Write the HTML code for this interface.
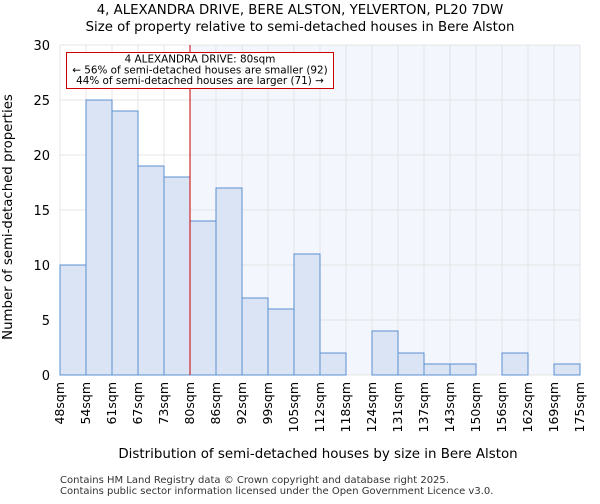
<!DOCTYPE html>
<html><head><meta charset="utf-8"><style>
body{margin:0;background:#fff;font-family:"DejaVu Sans","Liberation Sans",sans-serif}
</style></head><body>
<svg width="600" height="500" xmlns="http://www.w3.org/2000/svg" font-family="DejaVu Sans, Liberation Sans, sans-serif">
<text x="300" y="14" text-anchor="middle" font-size="13.3">4, ALEXANDRA DRIVE, BERE ALSTON, YELVERTON, PL20 7DW</text>
<text x="300" y="31" text-anchor="middle" font-size="13.3">Size of property relative to semi-detached houses in Bere Alston</text>
<g id="plot"></g>
<text x="318" y="458" text-anchor="middle" font-size="13.4">Distribution of semi-detached houses by size in Bere Alston</text>
<text transform="translate(12,217) rotate(-90)" text-anchor="middle" font-size="13.3">Number of semi-detached properties</text>
<text x="60" y="483" font-size="10" fill="#333">Contains HM Land Registry data © Crown copyright and database right 2025.</text>
<text x="60" y="494" font-size="10" fill="#333">Contains public sector information licensed under the Open Government Licence v3.0.</text>
</svg>
<script>
const categories=["48sqm","54sqm","61sqm","67sqm","73sqm","80sqm","86sqm","92sqm","99sqm","105sqm","112sqm","118sqm","124sqm","131sqm","137sqm","143sqm","150sqm","156sqm","162sqm","169sqm","175sqm"];
const counts=[10,25,24,19,18,14,17,7,6,11,2,0,4,2,1,1,0,2,0,1];
const yTicks=[0,5,10,15,20,25,30];
const markerIndex=5;
const NS="http://www.w3.org/2000/svg";
const g=document.getElementById('plot');
const L=60,R=580,T=45,B=375,yMax=30;
const bw=(R-L)/counts.length;
const x=i=>L+i*bw;
const y=v=>B-(v/yMax)*(B-T);
function mk(t,a){const e=document.createElementNS(NS,t);for(const k in a)e.setAttribute(k,a[k]);g.appendChild(e);return e;}
let e;
e=mk('rect',{x:x(markerIndex),y:T,width:R-x(markerIndex),height:B-T,fill:'#f3f6fc'});


for(let i=0;i<=counts.length;i++){e=mk('line',{x1:x(i),x2:x(i),y1:T,y2:B,stroke:'#e4e4e4','stroke-width':1});

}
yTicks.forEach(v=>{e=mk('line',{x1:L,x2:R,y1:y(v),y2:y(v),stroke:'#e4e4e4','stroke-width':1});


e=mk('text',{x:L-10,y:y(v)+5,'text-anchor':'end','font-size':13});e.textContent=v;

});
counts.forEach((c,i)=>{if(c<=0)return;e=mk('rect',{x:x(i),y:y(c),width:bw,height:B-y(c),fill:'#dae4f4',stroke:'#5b8fd0','stroke-width':1});

});
categories.forEach((c,i)=>{e=mk('text',{transform:`translate(${x(i)+4},${B+7}) rotate(-90)`,'text-anchor':'end','font-size':12.5});e.textContent=c;

});
e=mk('line',{x1:x(markerIndex),x2:x(markerIndex),y1:T,y2:B,stroke:'#cc0000','stroke-width':1});


e=mk('rect',{x:66.5,y:52.5,width:267,height:36,fill:'#fff',stroke:'#cc0000','stroke-width':1});


["4 ALEXANDRA DRIVE: 80sqm","← 56% of semi-detached houses are smaller (92)","44% of semi-detached houses are larger (71) →"].forEach((t,k)=>{
e=mk('text',{x:200,y:62.5+k*10.8,'text-anchor':'middle','font-size':10.4});e.textContent=t;

});
</script>
</body></html>
